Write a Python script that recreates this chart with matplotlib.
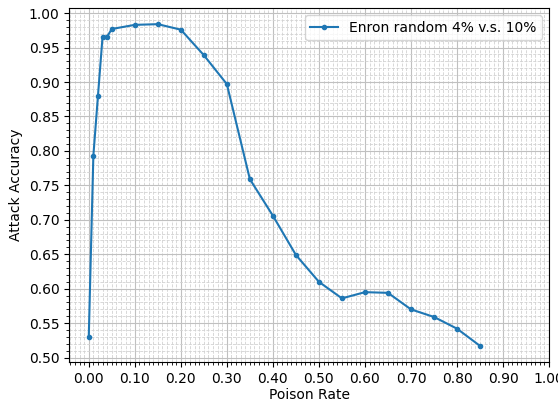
import numpy as np
import matplotlib
matplotlib.use('Agg')
import matplotlib.pyplot as plt
from matplotlib.ticker import MultipleLocator

# poison rates and attack accuracy
poison_rate = [0.0, 0.01, 0.02, 0.03, 0.04, 0.05, 0.10, 0.15, 0.20, 0.25, 0.30,
               0.35, 0.40, 0.45, 0.50, 0.55, 0.60, 0.65, 0.70, 0.75, 0.80, 0.85]
accuracy = [0.530, 0.793, 0.880, 0.966, 0.966, 0.977, 0.983, 0.984, 0.976, 0.939, 0.897,
            0.759, 0.706, 0.649, 0.610, 0.586, 0.595, 0.594, 0.570, 0.559, 0.542, 0.517]
label = 'Enron random 4% v.s. 10%'

fig, ax = plt.subplots(figsize=(5.58, 4.04), dpi=100)
ax.plot(poison_rate, accuracy, marker='o', markersize=3, label=label)

ax.set_xticks(np.arange(0, 1.01, 0.1))
ax.yaxis.set_major_locator(MultipleLocator(0.05))
ax.xaxis.set_major_formatter(plt.FormatStrFormatter('%.2f'))
ax.yaxis.set_major_formatter(plt.FormatStrFormatter('%.2f'))
ax.xaxis.set_minor_locator(MultipleLocator(0.01))
ax.yaxis.set_minor_locator(MultipleLocator(0.01))
ax.set_xlim(-0.0425, 1.0)
ax.grid(which='major', color='#c0c0c0', linewidth=0.8)
ax.grid(which='minor', color='#d2d2d2', linewidth=0.6, linestyle='--')

ax.set_xlabel('Poison Rate', labelpad=2)
ax.set_ylabel('Attack Accuracy')
ax.legend(loc='upper right')

fig.subplots_adjust(left=0.124, right=0.984, top=0.98, bottom=0.104)
fig.savefig('out.png', dpi=100)
